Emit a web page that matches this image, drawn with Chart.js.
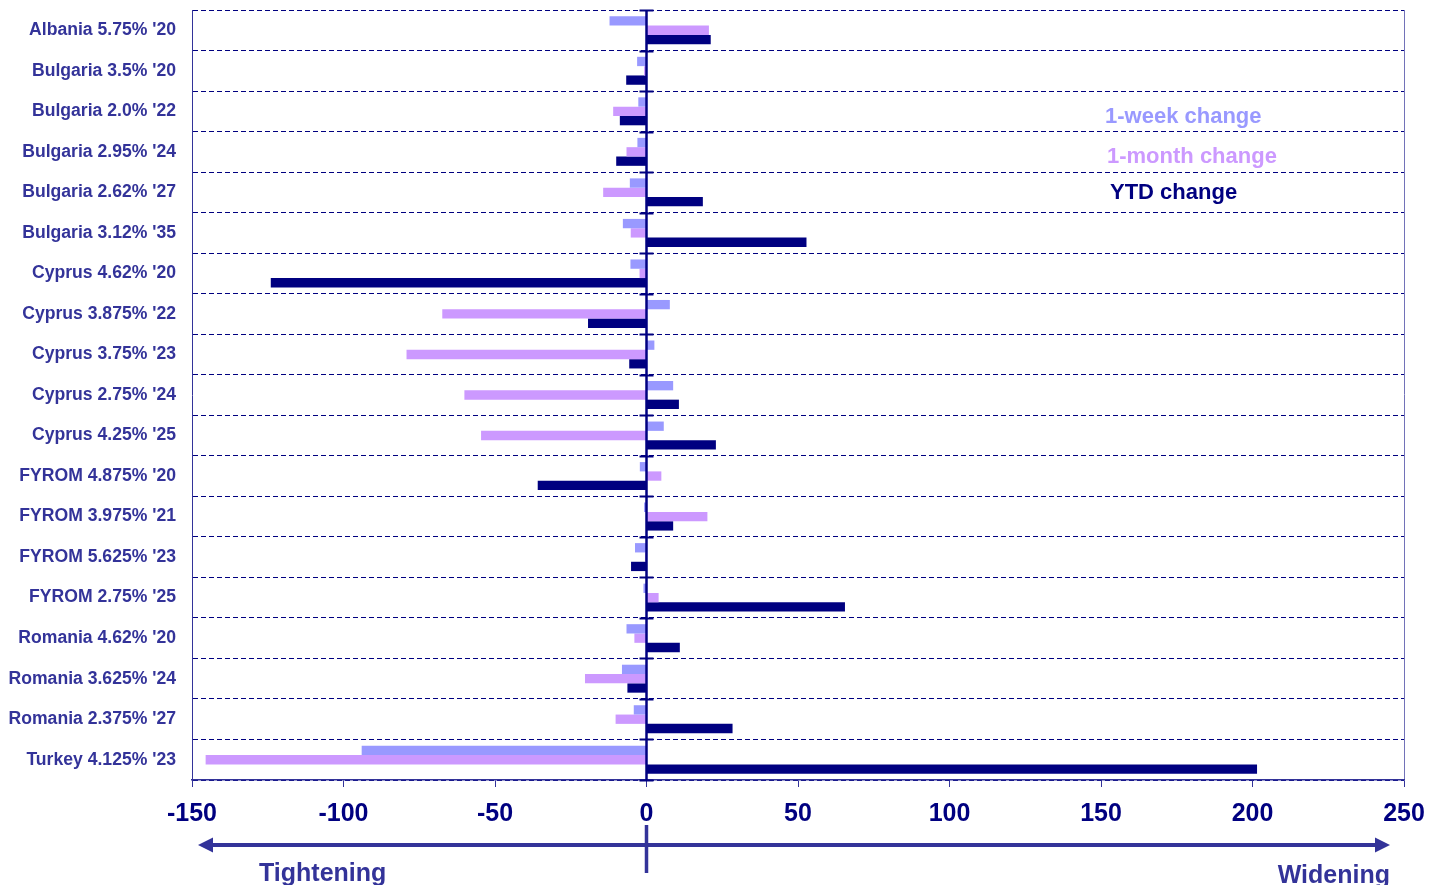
<!DOCTYPE html>
<html>
<head>
<meta charset="utf-8">
<title>Eurobond spread changes</title>
<script src="https://cdn.jsdelivr.net/npm/chart.js@4/dist/chart.umd.min.js"></script>
<style>
  html, body { margin: 0; padding: 0; background: #ffffff; }
  #wrap { width: 1440px; height: 885px; }
</style>
</head>
<body>
<div id="wrap"><canvas id="chart" width="1440" height="885"></canvas></div>
<script>
// Bond labels (top to bottom)
const categories = [
  "Albania 5.75% '20",
  "Bulgaria 3.5% '20",
  "Bulgaria 2.0% '22",
  "Bulgaria 2.95% '24",
  "Bulgaria 2.62% '27",
  "Bulgaria 3.12% '35",
  "Cyprus 4.62% '20",
  "Cyprus 3.875% '22",
  "Cyprus 3.75% '23",
  "Cyprus 2.75% '24",
  "Cyprus 4.25% '25",
  "FYROM 4.875% '20",
  "FYROM 3.975% '21",
  "FYROM 5.625% '23",
  "FYROM 2.75% '25",
  "Romania 4.62% '20",
  "Romania 3.625% '24",
  "Romania 2.375% '27",
  "Turkey 4.125% '23"
];

// Spread changes, bp
const weekChange  = [-12.2, -3.1, -2.7, -3.0, -5.5, -7.8, -5.3, 7.7, 2.6, 8.8, 5.7, -2.2, -0.8, -3.8, -1.0, -6.6, -8.1, -4.2, -94.0];
const monthChange = [20.6, -0.8, -11.0, -6.6, -14.3, -5.2, -2.3, -67.4, -79.2, -60.1, -54.6, 4.9, 20.1, -0.5, 4.0, -4.0, -20.3, -10.2, -145.5];
const ytdChange   = [21.2, -6.7, -8.8, -10.0, 18.6, 52.8, -124.0, -19.3, -5.7, 10.7, 22.9, -35.9, 8.8, -5.1, 65.5, 11.0, -6.3, 28.4, 201.5];

// Axis ticks
const xTicks = [-150, -100, -50, 0, 50, 100, 150, 200, 250];

const seriesLabels = ["1-week change", "1-month change", "YTD change"];
const seriesColors = ["#9999FF", "#CC99FF", "#000080"];

const FONT = "'Liberation Sans', Arial, Helvetica, sans-serif";
const AXIS_BLUE = "#333399";
const NAVY = "#000080";

// Zero line, crossing ticks, in-plot legend and the tightening/widening arrow
const decorations = {
  id: 'decorations',
  afterDatasetsDraw(chart) {
    const { ctx, chartArea, scales } = chart;
    const xs = scales.x, ys = scales.y;
    const x0 = xs.getPixelForValue(0);
    ctx.save();
    ctx.strokeStyle = NAVY;
    ctx.lineWidth = 2.5;
    ctx.beginPath();
    ctx.moveTo(x0, chartArea.top);
    ctx.lineTo(x0, chartArea.bottom);
    ctx.stroke();
    ctx.lineWidth = 2;
    for (let i = 0; i <= categories.length; i++) {
      const y = Math.round(ys.getPixelForValue(i - 0.5)) + 0.5;
      ctx.beginPath();
      ctx.moveTo(x0 - 7, y);
      ctx.lineTo(x0 + 7, y);
      ctx.stroke();
    }
    ctx.restore();
  },
  afterDraw(chart) {
    const { ctx, chartArea, scales } = chart;
    const xs = scales.x;
    const x0 = xs.getPixelForValue(0);
    const xMin = xs.getPixelForValue(xTicks[0]);
    const xMax = xs.getPixelForValue(xTicks[xTicks.length - 1]);
    ctx.save();

    // legend text inside the plot
    ctx.font = "bold 22px " + FONT;
    ctx.textBaseline = 'middle';
    ctx.textAlign = 'left';
    const legendX = [chartArea.right - 299, chartArea.right - 297, chartArea.right - 294];
    const legendY = [chartArea.top + 107, chartArea.top + 147, chartArea.top + 183];
    for (let i = 0; i < seriesLabels.length; i++) {
      ctx.fillStyle = seriesColors[i];
      ctx.fillText(chart.data.datasets[i].label, legendX[i], legendY[i]);
    }

    // direction arrow below the axis
    const ay = chartArea.bottom + 65;
    ctx.strokeStyle = AXIS_BLUE;
    ctx.fillStyle = AXIS_BLUE;
    ctx.lineWidth = 4;
    const leftTip = xMin + 6, rightTip = xMax - 14;
    ctx.beginPath();
    ctx.moveTo(leftTip + 12, ay);
    ctx.lineTo(rightTip - 12, ay);
    ctx.stroke();
    ctx.beginPath();
    ctx.moveTo(leftTip, ay);
    ctx.lineTo(leftTip + 15, ay - 7.5);
    ctx.lineTo(leftTip + 15, ay + 7.5);
    ctx.closePath();
    ctx.fill();
    ctx.beginPath();
    ctx.moveTo(rightTip, ay);
    ctx.lineTo(rightTip - 15, ay - 7.5);
    ctx.lineTo(rightTip - 15, ay + 7.5);
    ctx.closePath();
    ctx.fill();
    ctx.lineWidth = 3.5;
    ctx.beginPath();
    ctx.moveTo(x0, ay - 20);
    ctx.lineTo(x0, ay + 28);
    ctx.stroke();

    ctx.font = "bold 25px " + FONT;
    ctx.textBaseline = 'alphabetic';
    ctx.textAlign = 'left';
    ctx.fillText("Tightening", xMin + 67, chartArea.bottom + 101);
    ctx.textAlign = 'right';
    ctx.fillText("Widening", xMax - 14, chartArea.bottom + 103);
    ctx.restore();
  }
};

const datasets = [weekChange, monthChange, ytdChange].map((vals, i) => ({
  label: seriesLabels[i],
  data: vals,
  backgroundColor: seriesColors[i],
  borderWidth: 0,
  barPercentage: 1.0,
  categoryPercentage: 0.69
}));

new Chart(document.getElementById('chart'), {
  type: 'bar',
  data: { labels: categories, datasets },
  options: {
    indexAxis: 'y',
    responsive: false,
    animation: false,
    devicePixelRatio: 1,
    layout: { padding: { top: 10, right: 36, bottom: 0, left: 0 } },
    plugins: {
      legend: { display: false },
      tooltip: { enabled: false }
    },
    scales: {
      y: {
        type: 'category',
        offset: true,
        afterFit(scale) {
          scale.width = 192;
          scale.paddingTop = 0;
          scale.paddingBottom = 0;
        },
        grid: {
          offset: true,
          color: NAVY,
          lineWidth: 1,
          drawTicks: false
        },
        border: { display: true, color: AXIS_BLUE, width: 1, dash: [5, 3] },
        ticks: {
          color: AXIS_BLUE,
          padding: 16,
          font: { family: FONT, size: 17.6, weight: 'bold' }
        }
      },
      x: {
        type: 'linear',
        min: xTicks[0],
        max: xTicks[xTicks.length - 1],
        afterFit(scale) { scale.height = 105; },
        afterBuildTicks(scale) { scale.ticks = xTicks.map(v => ({ value: v })); },
        grid: {
          drawOnChartArea: true,
          color: (c) => (c.tick && c.tick.value === xTicks[xTicks.length - 1]) ? '#7272b8' : 'rgba(0,0,0,0)',
          tickColor: AXIS_BLUE,
          tickWidth: 1,
          tickLength: 7,
          lineWidth: 1
        },
        border: { display: true, color: AXIS_BLUE, width: 1.5 },
        ticks: {
          color: NAVY,
          padding: 12,
          font: { family: FONT, size: 25, weight: 'bold' },
          callback: (v) => String(v)
        }
      }
    }
  },
  plugins: [decorations]
});
</script>
</body>
</html>
